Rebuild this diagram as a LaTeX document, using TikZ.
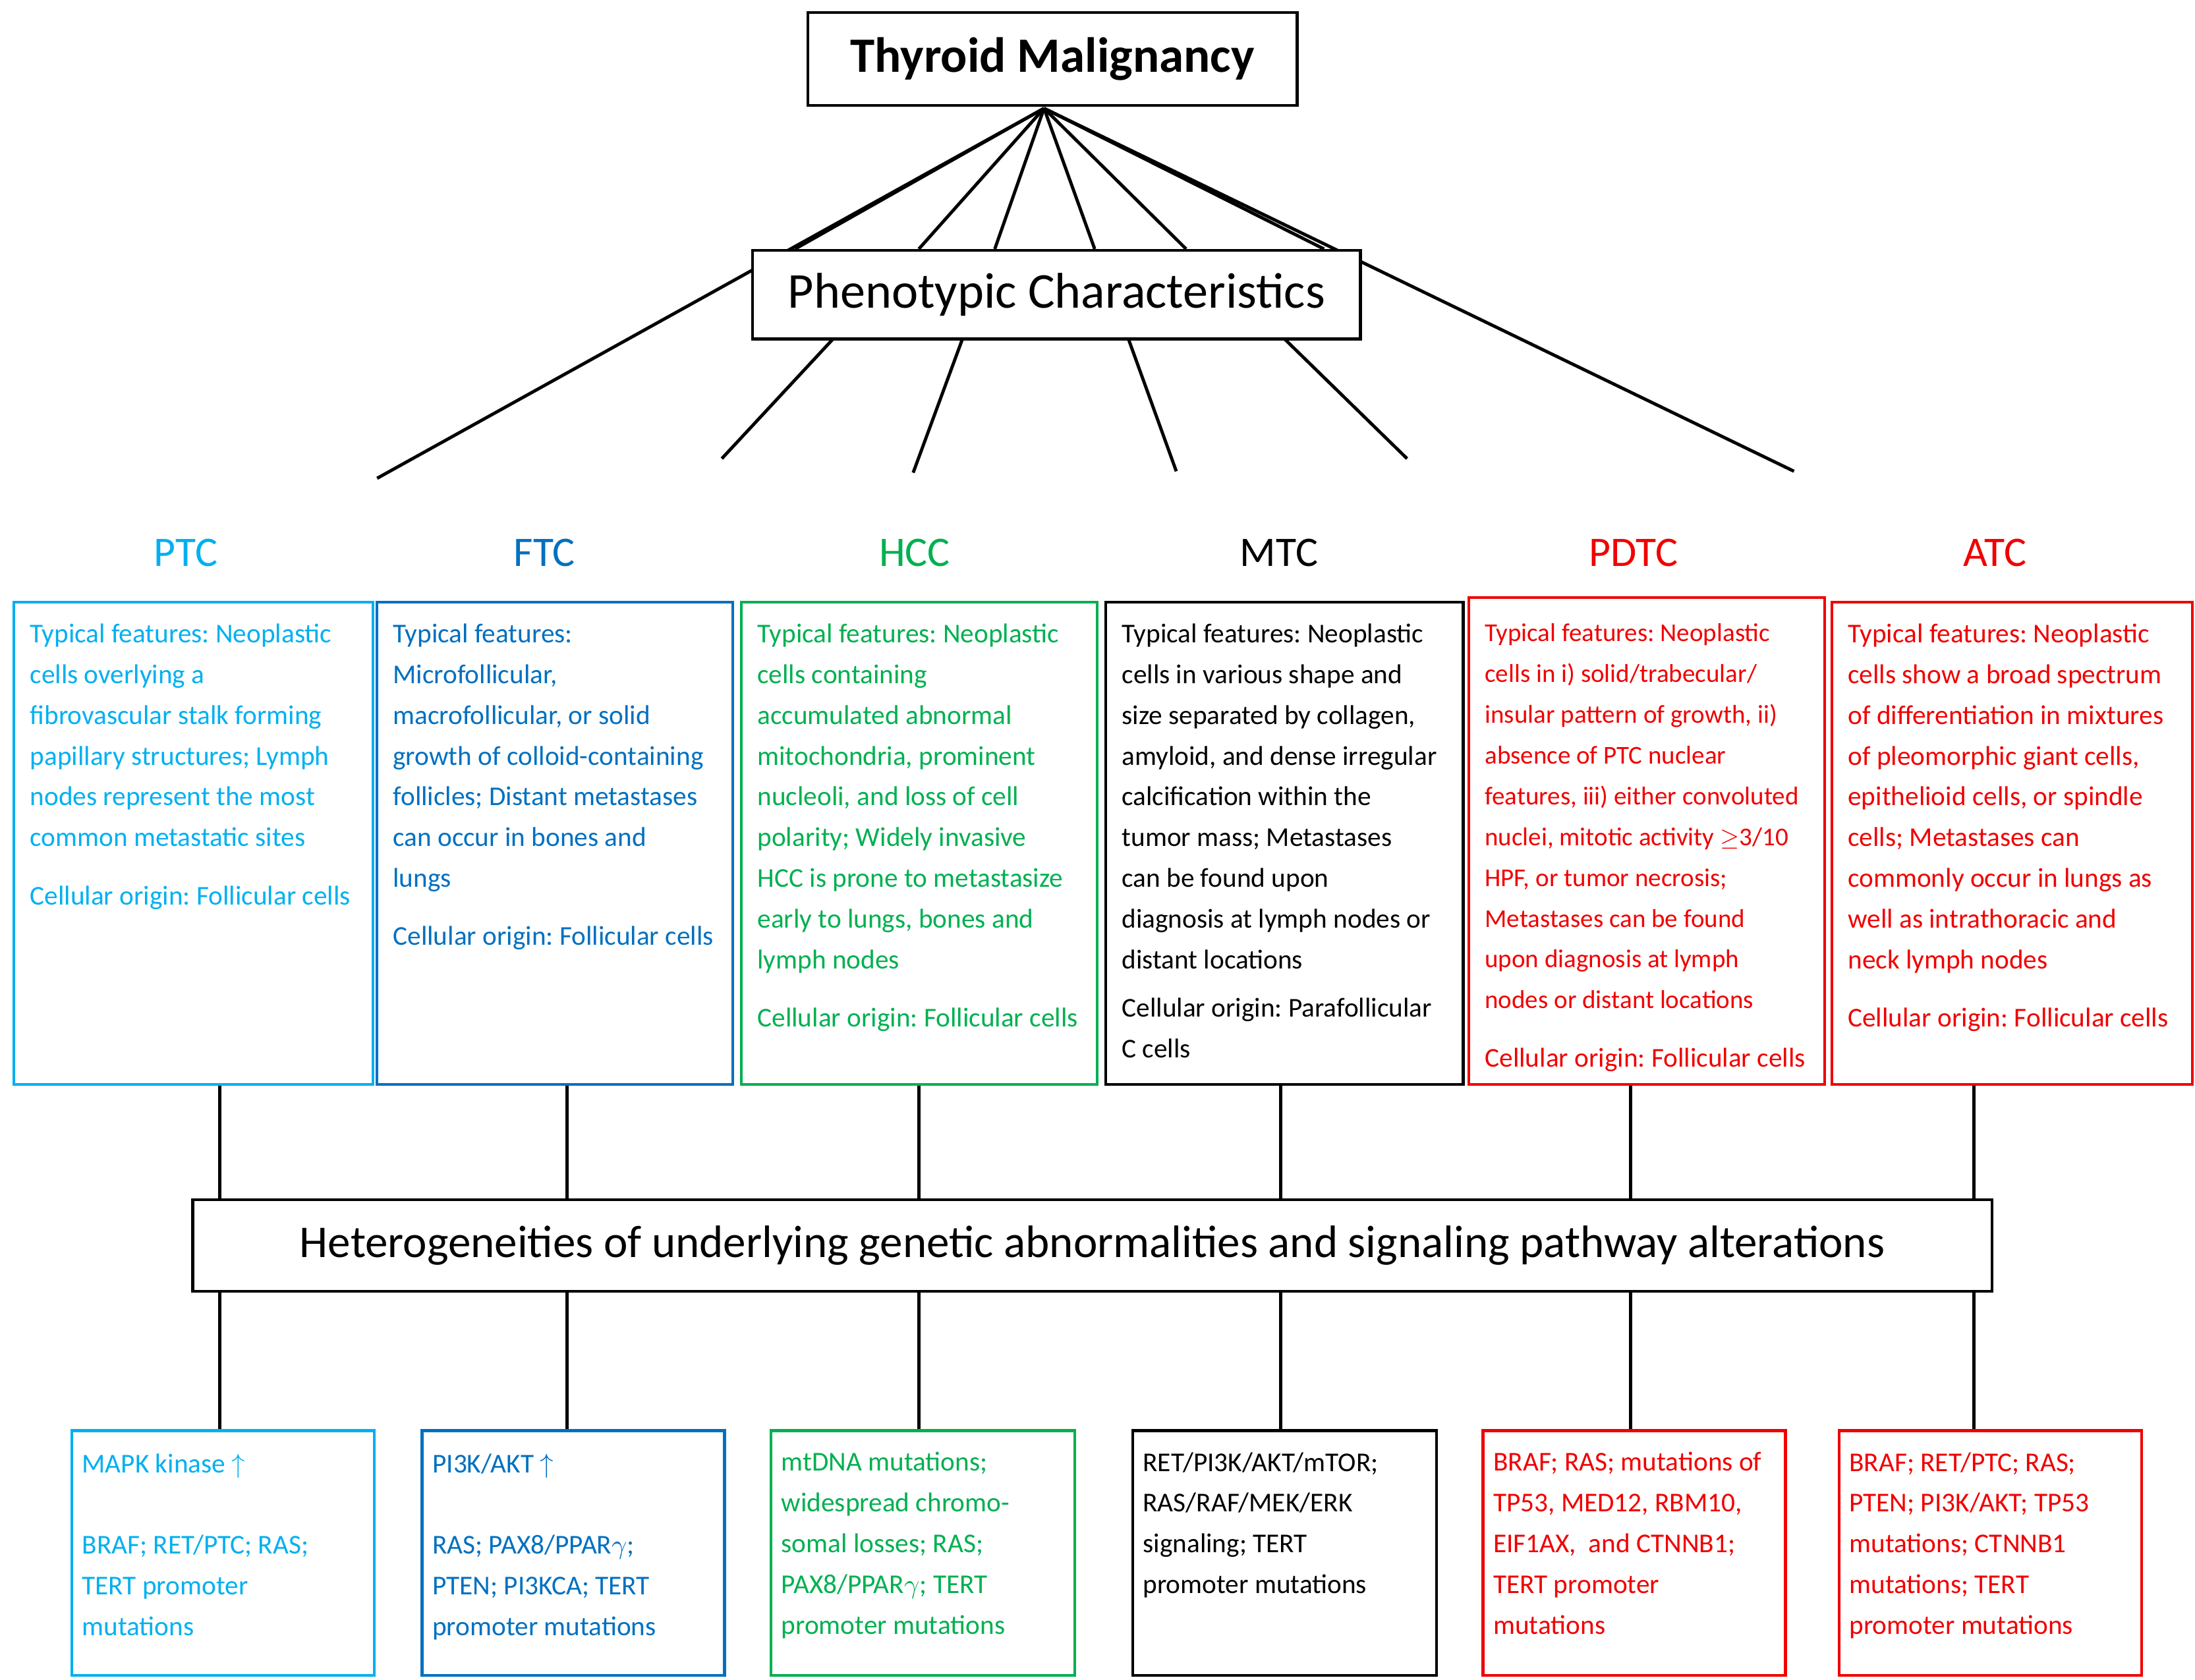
\documentclass[tikz,border=0pt]{standalone}
\usepackage{fontspec}
\setmainfont{Carlito}
\frenchspacing
\definecolor{cptc}{RGB}{0,176,240}
\definecolor{cftc}{RGB}{0,112,192}
\definecolor{chcc}{RGB}{0,176,80}
\definecolor{cred}{RGB}{240,0,0}
\begin{document}
\begin{tikzpicture}[x=0.02cm,y=-0.02cm,
  box/.style={draw,line width=1.1pt,anchor=north west,inner sep=0pt},
  txt/.style={anchor=north west,inner sep=0pt,align=left,font=\fontsize{11}{16.5}\selectfont},
  ttl/.style={font=\fontsize{17}{20}\selectfont},
  ln/.style={line width=1.3pt}]
\useasboundingbox (0,0) rectangle (1560,1194);
% connectors first
\coordinate (apex) at (742,77);
\coordinate (L1) at (268,340); \coordinate (L2) at (1275,335);
\draw[ln] (apex) -- (L1); \draw[ln] (apex) -- (L2);
\foreach \x in {565,653,707,778,843,941} \draw[ln] (apex) -- (\x,177);
\coordinate (b1) at (513,326); \coordinate (b2) at (649,336);
\coordinate (b3) at (836,335); \coordinate (b4) at (1000,326);
\draw[ln] (592,241) -- (b1); \draw[ln] (684,241) -- (b2);
\draw[ln] (802,241) -- (b3); \draw[ln] (913,241) -- (b4);
% top boxes
\node[box,fill=white,minimum width=6.96cm,minimum height=1.32cm] (top) at (573,8) {};
\node[font=\fontsize{20}{24}\selectfont\bfseries] at (top.center) {Thyroid Malignancy};
\node[box,fill=white,minimum width=8.64cm,minimum height=1.26cm] (phen) at (534,177) {};
\node[font=\fontsize{20.3}{24}\selectfont] at (phen.center) {Phenotypic Characteristics};
% titles
\node[ttl,text=cptc] (tptc) at (132,393) {PTC};
\node[ttl,text=cftc] (tftc) at (387,393) {FTC};
\node[ttl,text=chcc] (thcc) at (650,393) {HCC};
\node[ttl] (tmtc) at (909,393) {MTC};
\node[ttl,text=cred] (tpdtc) at (1161,393) {PDTC};
\node[ttl,text=cred] (tatc) at (1418,393) {ATC};
% middle boxes
\node[box,draw=cptc,minimum width=5.1cm,minimum height=6.86cm] (m1) at (9,427) {};
\node[box,draw=cftc,minimum width=5.06cm,minimum height=6.86cm] (m2) at (267,427) {};
\node[box,draw=chcc,minimum width=5.06cm,minimum height=6.86cm] (m3) at (526,427) {};
\node[box,minimum width=5.08cm,minimum height=6.86cm] (m4) at (785,427) {};
\node[box,draw=cred,minimum width=5.06cm,minimum height=6.92cm] (m5) at (1043,424) {};
\node[box,draw=cred,minimum width=5.12cm,minimum height=6.86cm] (m6) at (1301,427) {};
\node[txt,text=cptc] at (21,443) {Typical features: Neoplastic\\cells overlying a\\fibrovascular stalk forming\\papillary structures; Lymph\\nodes represent the most\\common metastatic sites\\[7pt]Cellular origin: Follicular cells};
\node[txt,text=cftc] at (279,443) {Typical features:\\Microfollicular,\\macrofollicular, or solid\\growth of colloid-containing\\follicles; Distant metastases\\can occur in bones and\\lungs\\[7pt]Cellular origin: Follicular cells};
\node[txt,text=chcc] at (538,443) {Typical features: Neoplastic\\cells containing\\accumulated abnormal\\mitochondria, prominent\\nucleoli, and loss of cell\\polarity; Widely invasive\\HCC is prone to metastasize\\early to lungs, bones and\\lymph nodes\\[7pt]Cellular origin: Follicular cells};
\node[txt] at (797,443) {Typical features: Neoplastic\\cells in various shape and\\size separated by collagen,\\amyloid, and dense irregular\\calcification within the\\tumor mass; Metastases\\can be found upon\\diagnosis at lymph nodes or\\distant locations\\[3pt]Cellular origin: Parafollicular\\C cells};
\node[txt,text=cred,font=\fontsize{10.4}{16.5}\selectfont] at (1055,443) {Typical features: Neoplastic\\cells in i) solid/trabecular/\\insular pattern of growth, ii)\\absence of PTC nuclear\\features, iii) either convoluted\\nuclei, mitotic activity $\geq$3/10\\HPF, or tumor necrosis;\\Metastases can be found\\upon diagnosis at lymph\\nodes or distant locations\\[7pt]\fontsize{11}{16.5}\selectfont Cellular origin: Follicular cells};
\node[txt,text=cred] at (1313,443) {Typical features: Neoplastic\\cells show a broad spectrum\\of differentiation in mixtures\\of pleomorphic giant cells,\\epithelioid cells, or spindle\\cells; Metastases can\\commonly occur in lungs as\\well as intrathoracic and\\neck lymph nodes\\[7pt]Cellular origin: Follicular cells};
% hetero
\node[box,minimum width=25.58cm,minimum height=1.3cm] (het) at (136,852) {};
\node[font=\fontsize{18.4}{22}\selectfont] at (het.center) {Heterogeneities of underlying genetic abnormalities and signaling pathway alterations};
% bottom boxes
\node[box,draw=cptc,minimum width=4.3cm,minimum height=3.48cm] (n1) at (50,1016) {};
\node[box,draw=cftc,minimum width=4.3cm,minimum height=3.48cm] (n2) at (299,1016) {};
\node[box,draw=chcc,minimum width=4.32cm,minimum height=3.48cm] (n3) at (547,1016) {};
\node[box,minimum width=4.32cm,minimum height=3.48cm] (n4) at (804,1016) {};
\node[box,draw=cred,minimum width=4.3cm,minimum height=3.48cm] (n5) at (1053,1016) {};
\node[box,draw=cred,minimum width=4.3cm,minimum height=3.48cm] (n6) at (1306,1016) {};
\node[txt,text=cptc] at (58,1033) {MAPK kinase $\uparrow$\\~\\BRAF; RET/PTC; RAS;\\TERT promoter\\mutations};
\node[txt,text=cftc] at (307,1033) {PI3K/AKT $\uparrow$\\~\\RAS; PAX8/PPAR$\gamma$;\\PTEN; PI3KCA; TERT\\promoter mutations};
\node[txt,text=chcc] at (555,1032) {mtDNA mutations;\\widespread chromo-\\somal losses; RAS;\\PAX8/PPAR$\gamma$; TERT\\promoter mutations};
\node[txt] at (812,1032) {RET/PI3K/AKT/mTOR;\\RAS/RAF/MEK/ERK\\signaling; TERT\\promoter mutations};
\node[txt,text=cred] at (1061,1032) {BRAF; RAS; mutations of\\TP53, MED12, RBM10,\\EIF1AX,\ \ and CTNNB1;\\TERT promoter\\mutations};
\node[txt,text=cred] at (1314,1032) {BRAF; RET/PTC; RAS;\\PTEN; PI3K/AKT; TP53\\mutations; CTNNB1\\mutations; TERT\\promoter mutations};
% vertical connectors
\foreach \i/\x in {1/156,2/403,3/653,4/910,5/1159,6/1403}{
  \draw[ln] (m\i.south -| \x,0) -- (het.north -| \x,0);
  \draw[ln] (het.south -| \x,0) -- (n\i.north -| \x,0);
}
\end{tikzpicture}
\end{document}
